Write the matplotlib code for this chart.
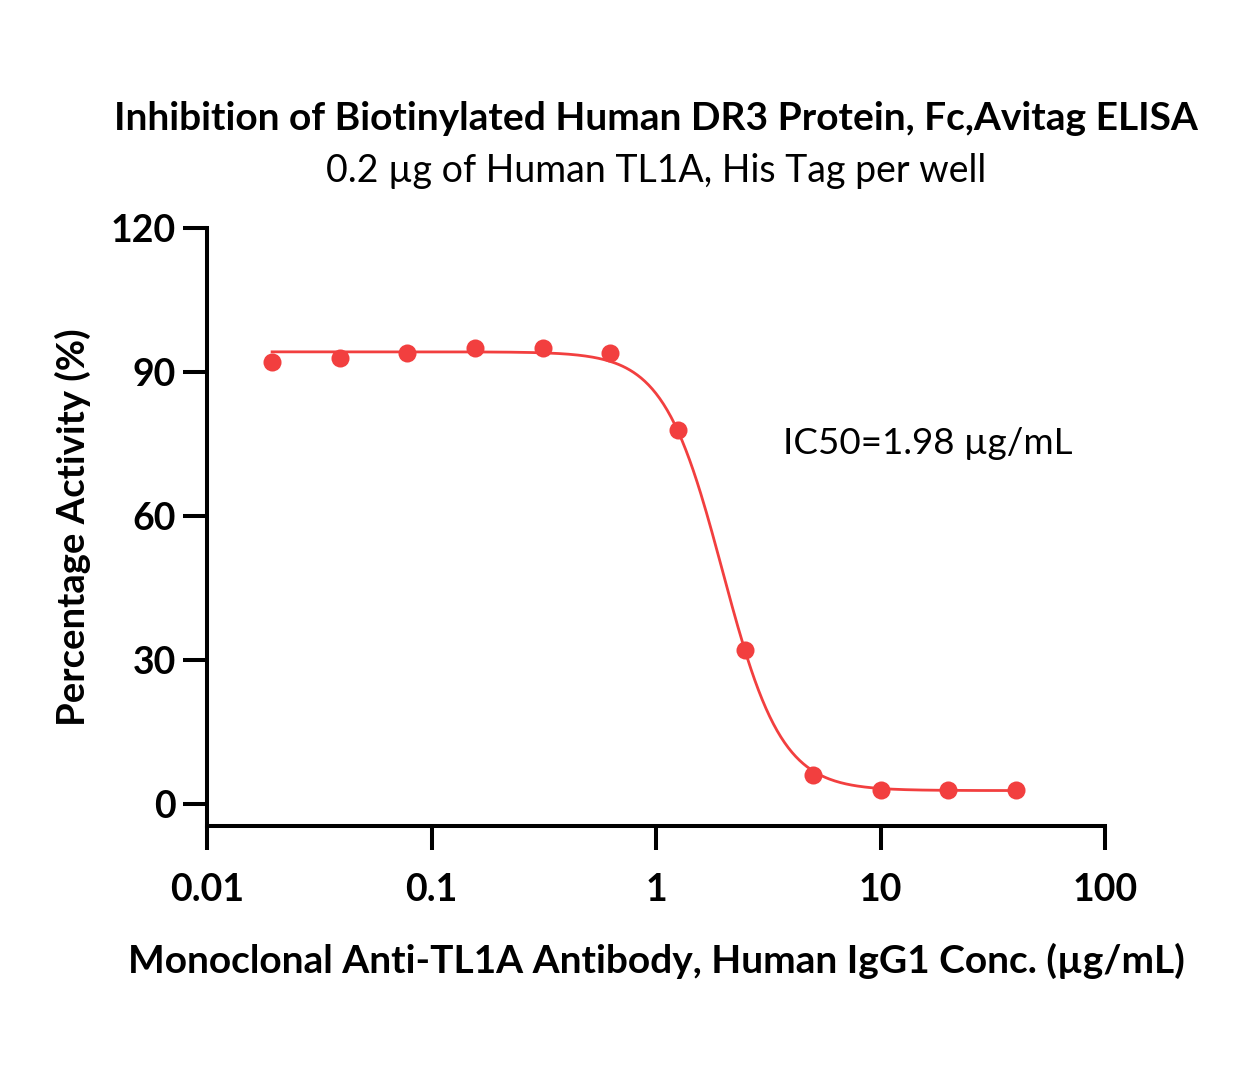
import numpy as np
import matplotlib
matplotlib.use("Agg")
import matplotlib.pyplot as plt
from matplotlib.ticker import FixedLocator, FixedFormatter, NullLocator

# Data
conc = [0.0195, 0.039, 0.078, 0.156, 0.3125, 0.625, 1.25, 2.5, 5, 10, 20, 40]
activity = [92, 93, 94, 95, 95, 94, 78, 32, 6, 3, 3, 3]
# 4PL fit parameters
top, bottom, ic50, hill = 94.2, 2.8, 1.98, 3.3
x_ticks = [0.01, 0.1, 1, 10, 100]
x_tick_labels = ["0.01", "0.1", "1", "10", "100"]
y_ticks = [0, 30, 60, 90, 120]

title = "Inhibition of Biotinylated Human DR3 Protein, Fc,Avitag ELISA"
subtitle = "0.2 µg of Human TL1A, His Tag per well"
xlabel = "Monoclonal Anti-TL1A Antibody, Human IgG1 Conc. (µg/mL)"
ylabel = "Percentage Activity (%)"
annot = "IC50=1.98 µg/mL"

plt.rcParams['font.family'] = ['Lato', 'DejaVu Sans']
red = '#F23F3F'

fig = plt.figure(figsize=(12.42, 10.8), dpi=100)
ax = fig.add_axes([207/1242, 1-826/1080, (1105-207)/1242, (826-228)/1080])

xs = np.logspace(np.log10(conc[0]), np.log10(conc[-1]), 400)
ys = bottom + (top - bottom) / (1 + (xs / ic50) ** hill)
ax.plot(xs, ys, color=red, lw=2.0, zorder=2)
ax.plot(conc, activity, 'o', color=red, ms=13, mec='none', zorder=3)

ax.set_xscale('log')
ax.set_xlim(0.01, 100)
ax.set_ylim(-4.583, 120)
ax.xaxis.set_major_locator(FixedLocator(x_ticks))
ax.xaxis.set_major_formatter(FixedFormatter(x_tick_labels))
ax.xaxis.set_minor_locator(NullLocator())
ax.set_yticks(y_ticks)

for s in ['top', 'right']:
    ax.spines[s].set_visible(False)
for s in ['left', 'bottom']:
    ax.spines[s].set_linewidth(2.9)
    ax.spines[s].set_capstyle('projecting')
ax.tick_params(axis='both', width=2.9, length=17.5)
ax.tick_params(axis='x', pad=16, labelsize=27)
ax.tick_params(axis='y', pad=5, labelsize=27)
for lab in ax.get_xticklabels() + ax.get_yticklabels():
    lab.set_fontweight('bold')

ax.set_xlabel(xlabel, fontsize=28, fontweight='bold', labelpad=26)
ax.set_ylabel(ylabel, fontsize=27.5, fontweight='bold', labelpad=14)

fig.text(656/1242, 1-119/1080, title, ha='center', va='center', fontsize=28, fontweight='bold')
fig.text(656/1242, 1-171/1080, subtitle, ha='center', va='center', fontsize=27)
ax.text(783/1242, 1-443/1080, annot, transform=fig.transFigure, ha='left', va='center', fontsize=26.5)

fig.savefig('out.png', dpi=100)
